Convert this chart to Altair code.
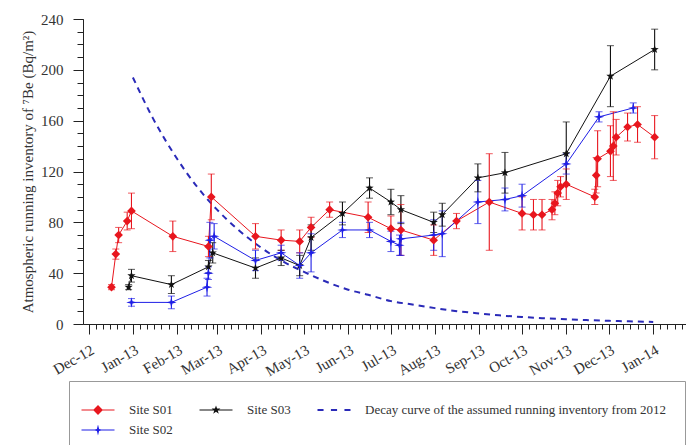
import altair as alt
import pandas as pd

# ---------------- data ----------------
s01_dates = ["2012-12-17", "2012-12-20", "2012-12-22", "2012-12-28", "2012-12-31", "2013-01-29",
             "2013-02-23", "2013-02-25", "2013-03-28", "2013-04-15", "2013-04-28", "2013-05-06",
             "2013-05-19", "2013-06-15", "2013-07-01", "2013-07-08", "2013-07-31", "2013-08-16",
             "2013-09-08", "2013-10-01", "2013-10-09", "2013-10-15", "2013-10-22", "2013-10-24",
             "2013-10-26", "2013-10-28", "2013-11-01", "2013-11-21", "2013-11-22", "2013-11-23",
             "2013-12-02", "2013-12-04", "2013-12-06", "2013-12-14", "2013-12-21", "2014-01-02"]
s01_vals = [29, 55, 70, 81, 89, 69, 61, 100, 69, 66, 65, 76, 90, 84, 75, 74, 66, 81,
            96, 87, 86, 86, 90, 95, 103, 108, 110, 100, 117, 130, 136, 140, 147, 155, 157, 147]
s01_err = [2, 4, 6, 7, 14, 12, 8, 18, 10, 8, 9, 8, 6, 12, 10, 20, 12, 6,
           38, 13, 12, 12, 8, 9, 10, 8, 12, 6, 14, 22, 20, 27, 14, 11, 14, 17]

s02_dates = ["2012-12-31", "2013-01-28", "2013-02-22", "2013-02-23", "2013-02-24", "2013-02-27",
             "2013-03-28", "2013-04-15", "2013-04-28", "2013-05-06", "2013-05-28", "2013-06-16",
             "2013-07-01", "2013-07-07", "2013-07-08", "2013-07-31", "2013-08-06", "2013-08-31",
             "2013-09-19", "2013-10-01", "2013-11-01", "2013-11-24", "2013-12-18"]
s02_vals = [17, 17, 29, 40, 66, 69, 50, 56, 46, 56, 74, 74, 65, 62, 67, 70, 71, 96,
            98, 101, 126, 163, 170]
s02_err = [3, 5, 7, 5, 14, 10, 8, 6, 10, 15, 6, 6, 8, 8, 13, 12, 18, 17, 9, 9, 8, 4, 4]

s03_dates = ["2012-12-29", "2012-12-31", "2013-01-28", "2013-02-23", "2013-02-26", "2013-03-28",
             "2013-04-15", "2013-04-28", "2013-05-06", "2013-05-28", "2013-06-16", "2013-07-01",
             "2013-07-08", "2013-07-31", "2013-08-06", "2013-08-31", "2013-09-19", "2013-11-01",
             "2013-12-02", "2014-01-02"]
s03_vals = [29, 38, 31, 45, 56, 44, 52, 46, 68, 87, 107, 96, 90, 80, 86, 115, 119, 134, 195, 216]
s03_err = [2, 5, 7, 5, 8, 8, 6, 8, 10, 9, 8, 10, 11, 8, 9, 11, 16, 25, 24, 16]

decay_dates = ["2013-01-01", "2013-01-15", "2013-02-01", "2013-02-15", "2013-03-01", "2013-03-15",
               "2013-04-01", "2013-04-15", "2013-05-01", "2013-05-15", "2013-06-01", "2013-06-15",
               "2013-07-01", "2013-07-15", "2013-08-01", "2013-08-15", "2013-09-01", "2013-09-15",
               "2013-10-01", "2013-10-15", "2013-11-01", "2013-11-15", "2013-12-01", "2013-12-15",
               "2014-01-01"]
decay_vals = [194, 162, 130, 108, 90, 75, 60, 50, 41, 34, 27, 23, 18, 15.5, 12.5, 10.3,
              8.3, 6.8, 5.5, 4.6, 3.7, 3.1, 2.5, 2.1, 1.6]

series_names = ["Site S01", "Site S03",
                "Decay curve of the assumed running inventory from 2012", "Site S02"]
series_colors = ["#e8161e", "#111111", "#2a2ab8", "#1f1fe6"]

y_major = [0, 40, 80, 120, 160, 200, 240]
y_minor = list(range(0, 241, 10))

# ---------------- tables ----------------
def site_df(name, d, v, e):
    return pd.DataFrame({"date": d, "value": v, "lo": [a - b for a, b in zip(v, e)],
                         "hi": [a + b for a, b in zip(v, e)], "series": name})

sites = pd.concat([site_df("Site S01", s01_dates, s01_vals, s01_err),
                   site_df("Site S02", s02_dates, s02_vals, s02_err),
                   site_df("Site S03", s03_dates, s03_vals, s03_err)], ignore_index=True)
decay = pd.DataFrame({"date": decay_dates, "value": decay_vals, "series": series_names[2]})
legend_df = pd.DataFrame({"date": ["2013-06-01"] * 4, "value": [100] * 4, "series": series_names})

# ---------------- axes / scales ----------------
FONT = "Liberation Serif"
xscale = alt.Scale(type="utc",
                   domain=[alt.DateTime(year=2012, month=11, date=27, utc=True),
                           alt.DateTime(year=2014, month=1, date=24, utc=True)])
yscale = alt.Scale(domain=[0, 240], nice=False, zero=False)

months = [(2012, 12)] + [(2013, m) for m in range(1, 13)] + [(2014, 1)]
x_major_vals = [alt.DateTime(year=y, month=m, date=1, utc=True) for y, m in months]
x_minor_vals = []
for y, m in [(2012, 11)] + months:
    for d in [1, 6, 11, 16, 21, 26]:
        if (y, m, d) >= (2012, 11, 27) and (y, m, d) <= (2014, 1, 24):
            x_minor_vals.append(alt.DateTime(year=y, month=m, date=d, utc=True))

x_main_axis = alt.Axis(values=x_major_vals, format="%b-%y", orient="bottom", grid=False,
                       tickSize=10, labelAngle=-30, labelAlign="right", labelBaseline="top",
                       labelPadding=8, labelFont=FONT, labelFontSize=15, labelColor="#333",
                       labelOverlap=False, domainColor="#222", tickColor="#222", title=None)
x_minor_axis = alt.Axis(values=x_minor_vals, orient="bottom", grid=False, tickSize=5,
                        labels=False, domain=False, tickColor="#222", title=None)
y_main_axis = alt.Axis(values=y_major, orient="left", grid=False, tickSize=10, labelPadding=10,
                       labelFont=FONT, labelFontSize=15, labelColor="#333",
                       domainColor="#222", tickColor="#222",
                       title="Atmospheric running inventory of \u2077Be (Bq/m\u00b2)",
                       titleFont=FONT, titleFontSize=15, titleFontWeight="normal",
                       titleColor="#333", titlePadding=5)
y_minor_axis = alt.Axis(values=y_minor, orient="left", grid=False, tickSize=6, labels=False,
                        domain=False, tickColor="#222", title=None)

# legend symbol paths (line through marker)
LINE = "M-1.5,-0.05 L1.5,-0.05 L1.5,0.05 L-1.5,0.05 Z"
L_DIAMOND = LINE + " M0,-0.45 L0.45,0 L0,0.45 L-0.45,0 Z"
L_STAR = LINE + (" M0,-0.42 L0.1,-0.14 L0.4,-0.13 L0.16,0.05 L0.25,0.34 L0,0.17"
                 " L-0.25,0.34 L-0.16,0.05 L-0.4,-0.13 L-0.1,-0.14 Z")
L_CROSS = LINE + " M0,-0.5 L0.1,-0.1 L0.5,0 L0.1,0.1 L0,0.5 L-0.1,0.1 L-0.5,0 L-0.1,-0.1 Z"
L_DASH = ("M-1.5,-0.09 L-0.95,-0.09 L-0.95,0.09 L-1.5,0.09 Z "
          "M-0.28,-0.09 L0.28,-0.09 L0.28,0.09 L-0.28,0.09 Z "
          "M0.95,-0.09 L1.5,-0.09 L1.5,0.09 L0.95,0.09 Z")

STAR = ("M0,-1 L0.235,-0.324 L0.951,-0.309 L0.38,0.124 L0.588,0.809 L0,0.4 "
        "L-0.588,0.809 L-0.38,0.124 L-0.951,-0.309 L-0.235,-0.324 Z")
CROSS4 = "M0,-1 L0.2,-0.2 L1,0 L0.2,0.2 L0,1 L-0.2,0.2 L-1,0 L-0.2,-0.2 Z"

legend = alt.Legend(orient="none", legendX=-14, legendY=362, direction="horizontal",
                    columns=3, title=None, padding=18, strokeColor="#999",
                    fillColor="white", symbolSize=484, symbolOpacity=1, symbolStrokeWidth=0,
                    symbolFillColor="transparent",
                    labelOffset=20, columnPadding=26, rowPadding=2, labelFont=FONT,
                    labelFontSize=13, labelColor="#333", labelLimit=0)
cscale = alt.Scale(domain=series_names, range=series_colors)
color = alt.Color("series:N", scale=cscale, legend=legend)
shape = alt.Shape("series:N", scale=alt.Scale(domain=series_names,
                                              range=[L_DIAMOND, L_STAR, L_DASH, L_CROSS]),
                  legend=legend)

X = lambda axis=None: alt.X("date:T", scale=xscale, axis=axis)

# ---------------- layers ----------------
legend_layer = alt.Chart(legend_df).mark_point(filled=True, size=484, opacity=0).encode(
    x=X(), y=alt.Y("value:Q", scale=yscale, axis=None), color=color, shape=shape)

decay_layer = alt.Chart(decay).mark_line(strokeDash=[6, 5], strokeWidth=2, interpolate="monotone").encode(
    x=X(x_minor_axis), y=alt.Y("value:Q", scale=yscale, axis=y_minor_axis), color=color)

lines = alt.Chart(sites).mark_line(strokeWidth=1).encode(
    x=X(x_main_axis), y=alt.Y("value:Q", scale=yscale, axis=y_main_axis),
    color=color, detail="series:N")

bars = alt.Chart(sites).mark_rule(strokeWidth=1.1).encode(
    x=X(), y=alt.Y("lo:Q", scale=yscale, axis=None), y2="hi:Q", color=color)
cap_lo = alt.Chart(sites).mark_tick(orient="horizontal", size=7, thickness=1).encode(
    x=X(), y=alt.Y("lo:Q", scale=yscale, axis=None), color=color)
cap_hi = alt.Chart(sites).mark_tick(orient="horizontal", size=7, thickness=1).encode(
    x=X(), y=alt.Y("hi:Q", scale=yscale, axis=None), color=color)

def pts(name, shp, size):
    return alt.Chart(sites).transform_filter(alt.datum.series == name).mark_point(
        shape=shp, size=size, filled=True, opacity=1).encode(
        x=X(), y=alt.Y("value:Q", scale=yscale, axis=None), color=color)

p3 = pts("Site S03", STAR, 75)
p2 = pts("Site S02", CROSS4, 110)
p1 = pts("Site S01", "diamond", 75)

chart = alt.layer(legend_layer, decay_layer, lines, bars, cap_lo, cap_hi, p3, p2, p1).resolve_axis(
    x="independent", y="independent").properties(
    width=603, height=305, padding={"left": 20, "top": 12, "right": 0, "bottom": 0}
).configure(background="white", font=FONT).configure_view(stroke=None).configure_legend(
    labelFont=FONT, labelFontSize=13, labelColor="#333")

chart.save("out.html", embed_options={"renderer": "svg", "actions": False})
